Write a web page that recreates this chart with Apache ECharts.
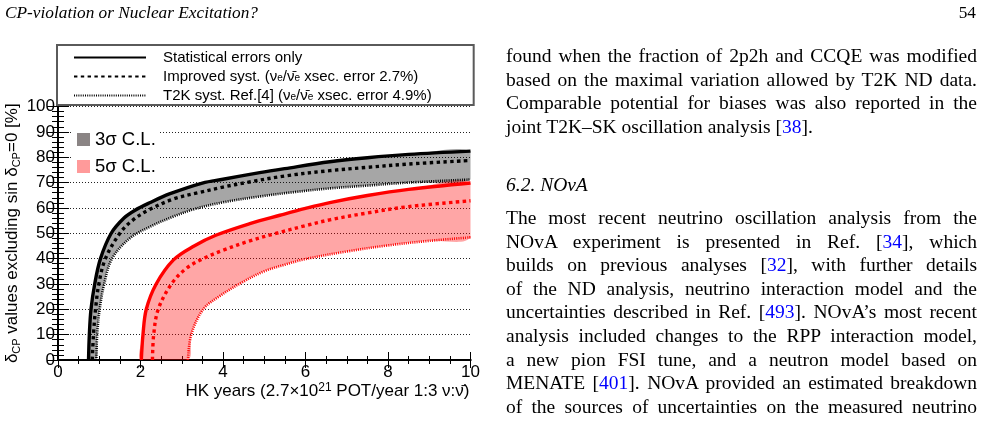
<!DOCTYPE html>
<html>
<head>
<meta charset="utf-8">
<script src="https://cdn.jsdelivr.net/npm/echarts@6/dist/echarts.min.js"></script>
<style>
html,body{margin:0;padding:0;background:#fff;}
#page{position:relative;width:984px;height:424px;overflow:hidden;}
#chart{position:absolute;left:0;top:0;width:984px;height:424px;}
.t{position:absolute;left:506px;font-family:"Liberation Serif","Times New Roman",serif;font-size:19.5px;line-height:23.5px;color:#000;white-space:nowrap;}
.j{width:471px;white-space:normal;text-align:justify;text-align-last:justify;height:23.5px;overflow:hidden;}
.i{font-style:italic;}
.l{color:#00f;}
.hd{position:absolute;top:1px;font-family:"Liberation Serif","Times New Roman",serif;font-size:17.3px;line-height:23px;color:#000;}
</style>
</head>
<body>
<div id="page">
<div id="chart"></div>
<div class="hd" style="left:5px;font-style:italic;">CP-violation or Nuclear Excitation?</div>
<div class="hd" style="right:8px;">54</div>

<div class="t j" style="top:44px;">found when the fraction of 2p2h and CCQE was modified</div>
<div class="t j" style="top:67.5px;">based on the maximal variation allowed by T2K ND data.</div>
<div class="t j" style="top:91px;">Comparable potential for biases was also reported in the</div>
<div class="t" style="top:114.5px;">joint T2K–SK oscillation analysis [<span class="l">38</span>].</div>

<div class="t i" style="top:173px;">6.2. NOvA</div>

<div class="t j" style="top:206px;">The most recent neutrino oscillation analysis from the</div>
<div class="t j" style="top:229.6px;">NOvA experiment is presented in Ref. [<span class="l">34</span>], which</div>
<div class="t j" style="top:253.2px;">builds on previous analyses [<span class="l">32</span>], with further details</div>
<div class="t j" style="top:276.8px;">of the ND analysis, neutrino interaction model and the</div>
<div class="t j" style="top:300.4px;">uncertainties described in Ref. [<span class="l">493</span>]. NOvA’s most recent</div>
<div class="t j" style="top:324px;">analysis included changes to the RPP interaction model,</div>
<div class="t j" style="top:347.6px;">a new pion FSI tune, and a neutron model based on</div>
<div class="t j" style="top:371.2px;">MENATE [<span class="l">401</span>]. NOvA provided an estimated breakdown</div>
<div class="t j" style="top:394.8px;">of the sources of uncertainties on the measured neutrino</div>
</div>
<script>
// 轴范围
var xRange = [0, 10];
var yRange = [0, 100];

// 3σ 曲线 [HK years, %]
var stat3 = [[0.74,0],[0.76,10],[0.80,20],[0.89,30],[1.03,40],[1.29,50],[1.6,56],[1.86,59],[2.22,62],[2.7,65.5],[3.5,69.8],[4.0,71.3],[4.89,73.9],[5.5,75.5],[6.59,78.2],[7.5,79.8],[8.5,81.1],[10,82.4]];
var impr3 = [[0.83,0],[0.86,10],[0.91,20],[0.99,30],[1.15,40],[1.5,50],[1.8,55],[2.2,59.2],[2.8,63.5],[3.4,66],[4.0,68.2],[4.57,70],[5.5,72.6],[6.59,74.7],[7.5,76],[8.5,77.3],[10,78.7]];
var t2k3 = [[0.93,0],[0.95,10],[1.01,20],[1.12,30],[1.31,40],[1.74,48],[2.22,52.5],[2.8,56.6],[3.3,59.5],[4.0,62.2],[4.89,64.5],[5.7,66.2],[6.59,67.7],[7.5,68.8],[8.5,70],[10,71.2]];

// 5σ 曲线
var stat5 = [[2.02,0],[2.06,10],[2.14,20],[2.38,30],[2.8,39.5],[3.3,45],[3.84,49.3],[4.65,53.8],[5.38,57.1],[6.0,59.8],[6.59,62.1],[7.5,64.9],[8.5,67.3],[10,69.8]];
var impr5 = [[2.29,0],[2.32,10],[2.43,20],[2.75,30],[3.1,36],[3.52,40],[4.0,43.3],[4.65,47],[5.34,50.2],[6.0,53],[6.59,55.3],[7.5,58],[8.5,60.5],[10,62.8]];
var t2k5 = [[3.15,0],[3.23,10],[3.52,20],[3.9,25],[4.45,30.5],[5.0,35],[5.5,37.6],[6.0,39.8],[7.0,42.8],[8.0,45.2],[9.0,47],[10,48.4]];

var lineNames = ['Statistical errors only', 'Improved syst. (νe/ν\u0304e xsec. error 2.7%)', 'T2K syst. Ref.[4] (νe/ν\u0304e xsec. error 4.9%)'];
var bandNames = ['3σ C.L.', '5σ C.L.'];

var legendText = {};
legendText[lineNames[0]] = '{t|Statistical errors only}';
legendText[lineNames[1]] = '{t|Improved syst. (ν}{s|e}{t|/ν\u0304}{s|e}{t| xsec. error 2.7%)}';
legendText[lineNames[2]] = '{t|T2K syst. Ref.[4] (ν}{s|e}{t|/ν\u0304}{s|e}{t| xsec. error 4.9%)}';

var FONT = '"Liberation Sans", Arial, sans-serif';
var SMOOTH = 0.35;

function bandRender(upper, lower) {
	return function (params, api) {
		var pts = [];
		upper.forEach(function (p) { pts.push(api.coord(p)); });
		lower.slice().reverse().forEach(function (p) { pts.push(api.coord(p)); });
		var lo = api.coord([xRange[0], yRange[1]]);
		var hi = api.coord([xRange[1], yRange[0]]);
		return {
			type: 'polygon',
			shape: { points: pts, smooth: SMOOTH, smoothConstraint: [lo, hi] },
			style: { fill: api.visual('color') }
		};
	};
}

function lineSeries(name, data, color, kind) {
	var ls = { color: color, width: 3.4, type: 'solid' };
	if (kind == 1) { ls.type = [3.4, 3.4]; }
	if (kind == 2) { ls.width = 2.6; ls.type = [1, 1.2]; }
	return {
		name: name, type: 'line', data: data, showSymbol: false, symbol: 'none',
		smooth: SMOOTH,
		lineStyle: ls, z: 3, silent: true
	};
}

var chart = echarts.init(document.getElementById('chart'));

var minorX = { show: true, splitNumber: 4, length: 4, lineStyle: { color: '#000', width: 1 } };
var minorY = { show: true, splitNumber: 5, length: 6, lineStyle: { color: '#000', width: 1 } };
var frame = { show: true, lineStyle: { color: '#000', width: 2 } };

var option = {
	animation: false,
	grid: { left: 58, top: 106.5, width: 412.5, height: 253.5, outerBoundsMode: 'none', containLabel: false },
	textStyle: { fontFamily: FONT },
	legend: [{
		orient: 'vertical', left: 57, top: 45,
		padding: [5, 42, 2, 16],
		borderColor: '#5a5a5a', borderWidth: 2, backgroundColor: '#fff',
		itemWidth: 72, itemHeight: 14, itemGap: 4,
		selectedMode: false,
		itemStyle: { opacity: 0 },
		data: lineNames,
		formatter: function (name) { return legendText[name]; },
		textStyle: {
			padding: [0, 0, 0, 12],
			rich: {
				t: { fontSize: 15, fontFamily: FONT, color: '#000', lineHeight: 14 },
				s: { fontSize: 10, fontFamily: FONT, color: '#000', verticalAlign: 'bottom', lineHeight: 9 }
			}
		}
	}, {
		orient: 'vertical', left: 73, top: 124,
		padding: [6, 4, 6, 4],
		backgroundColor: '#fff',
		itemWidth: 13, itemHeight: 13, itemGap: 8,
		selectedMode: false,
		data: [
			{ name: bandNames[0], icon: 'rect', itemStyle: { color: '#8a8484', opacity: 1 } },
			{ name: bandNames[1], icon: 'rect', itemStyle: { color: '#ff9a9a', opacity: 1 } }
		],
		textStyle: { fontSize: 18.5, fontFamily: FONT, color: '#000', lineHeight: 18 }
	}],
	xAxis: [{
		type: 'value', min: xRange[0], max: xRange[1], interval: 2, position: 'bottom',
		axisLine: frame,
		axisTick: { show: true, inside: true, length: 8, lineStyle: { color: '#000', width: 1 } },
		minorTick: minorX,
		axisLabel: { show: true, fontSize: 17, color: '#000', margin: 4, fontFamily: FONT },
		splitLine: { show: false },
		name: '{n|HK years (2.7×10}{p|21}{n| POT/year 1:3 ν:ν\u0304)}',
		nameLocation: 'end', nameGap: -1,
		nameTextStyle: {
			align: 'right', verticalAlign: 'top', padding: [22, 0, 0, 0],
			rich: {
				n: { fontSize: 17, fontFamily: FONT, color: '#000', lineHeight: 19 },
				p: { fontSize: 12, fontFamily: FONT, color: '#000', verticalAlign: 'top', lineHeight: 12 }
			}
		}
	}, {
		type: 'value', min: xRange[0], max: xRange[1], interval: 2, position: 'top',
		axisLine: frame,
		axisTick: { show: true, inside: true, length: 8, lineStyle: { color: '#000', width: 1 } },
		minorTick: minorX,
		axisLabel: { show: false },
		splitLine: { show: false }
	}],
	yAxis: [{
		type: 'value', min: yRange[0], max: yRange[1], interval: 10, position: 'left',
		axisLine: frame,
		axisTick: { show: true, inside: true, length: 11, lineStyle: { color: '#000', width: 1 } },
		minorTick: minorY,
		axisLabel: { show: true, fontSize: 17, color: '#000', margin: 3, fontFamily: FONT },
		splitLine: { show: true, lineStyle: { color: '#222', width: 1, type: [1, 2] } },
		name: '{n|δ}{s|CP}{n| values excluding sin δ}{s|CP}{n|=0 [%]}',
		nameLocation: 'middle', nameRotate: 90, nameGap: 36,
		nameTextStyle: {
			rich: {
				n: { fontSize: 17, fontFamily: FONT, color: '#000', lineHeight: 19 },
				s: { fontSize: 11, fontFamily: FONT, color: '#000', verticalAlign: 'bottom', lineHeight: 10 }
			}
		}
	}, {
		type: 'value', min: yRange[0], max: yRange[1], interval: 10, position: 'right',
		axisLine: frame,
		axisTick: { show: true, inside: true, length: 11, lineStyle: { color: '#000', width: 1 } },
		minorTick: minorY,
		axisLabel: { show: false },
		splitLine: { show: false }
	}],
	series: [
		{ name: bandNames[0], type: 'custom', renderItem: bandRender(stat3, t2k3), data: [[0, 0]],
			itemStyle: { color: 'rgba(0,0,0,0.35)' }, silent: true, clip: true, z: 2 },
		{ name: bandNames[1], type: 'custom', renderItem: bandRender(stat5, t2k5), data: [[0, 0]],
			itemStyle: { color: 'rgba(255,0,0,0.35)' }, silent: true, clip: true, z: 2 },
		lineSeries(lineNames[0], stat3, '#000', 0),
		lineSeries(lineNames[1], impr3, '#000', 1),
		lineSeries(lineNames[2], t2k3, '#000', 2),
		lineSeries('5σ ' + lineNames[0], stat5, '#ff0000', 0),
		lineSeries('5σ ' + lineNames[1], impr5, '#ff0000', 1),
		lineSeries('5σ ' + lineNames[2], t2k5, '#ff0000', 2)
	]
};
chart.setOption(option);
</script>
</body>
</html>
